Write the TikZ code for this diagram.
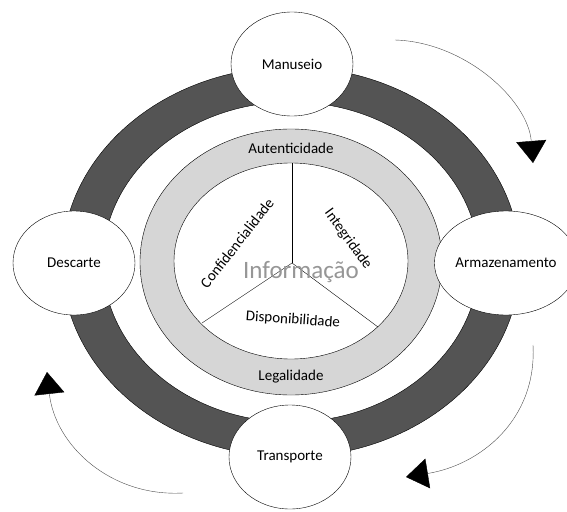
\documentclass[tikz,border=0pt]{standalone}
\usepackage{fontspec}
\setmainfont{Carlito}
\usetikzlibrary{shapes.geometric, arrows.meta, positioning}
\definecolor{ringdark}{RGB}{84,84,84}
\definecolor{ringlight}{RGB}{214,214,214}
\definecolor{infogray}{RGB}{150,150,150}
\tikzset{
  stage/.style={ellipse, draw=black, fill=white, minimum width=122pt, minimum height=104pt, inner sep=0pt, font=\fontsize{15}{17}\selectfont},
  pillar/.style={inner sep=1pt, font=\fontsize{15}{17}\selectfont},
  cycle/.style={draw=black!70, thin, -{Triangle[length=22pt, width=30pt, color=black]}}
}

\begin{document}
\begin{tikzpicture}[x=1pt, y=-1pt]
  \useasboundingbox (0,0) rectangle (567,511);

  % rings
  \fill[ringdark, even odd rule] (291,262) ellipse [x radius=229pt, y radius=195pt]
    (291,262) ellipse [x radius=188pt, y radius=160pt];
  \draw (291,262) ellipse [x radius=229pt, y radius=195pt];
  \draw (291,262) ellipse [x radius=188pt, y radius=160pt];
  \filldraw[fill=ringlight] (291,262) ellipse [x radius=151pt, y radius=133pt];
  \filldraw[fill=white] (291,261) ellipse [x radius=117pt, y radius=98pt];

  % spokes
  \coordinate (hub) at (292,263);
  \coordinate (spokeN) at (292,163);
  \coordinate (spokeL) at (202,323);
  \coordinate (spokeR) at (378,327);
  \draw (hub) -- (spokeN);
  \draw (hub) -- (spokeL);
  \draw (hub) -- (spokeR);

  \node (info) [font=\fontsize{25}{28}\selectfont, text=infogray] at (301,272) {Informação};
  \node (aut) [pillar] at (291,148) {Autenticidade};
  \node (leg) [pillar] at (291,377) {Legalidade};
  \node (disp) [pillar, rotate=-4] at (293,320) {Disponibilidade};
  \node (conf) [pillar, rotate=52] at (237,243) {Confidencialidade};
  \node (integ) [pillar, rotate=-54] at (348,239) {Integridade};

  % stages
  \node (manuseio) [stage] at (292,64) {Manuseio};
  \node (armaz) [stage] at (506,263) {Armazenamento};
  \node (transp) [stage] at (290,457) {Transporte};
  \node (descarte) [stage] at (74,263) {Descarte};

  % cycle arrows
  \coordinate (upS) at (395,40);
  \coordinate (upE) at (533,163);
  \coordinate (rightS) at (533,345);
  \coordinate (rightE) at (406,477);
  \coordinate (leftS) at (183,493);
  \coordinate (leftE) at (47,372);
  \draw [cycle] (upS) .. controls (465,42) and (528,100) .. (upE);
  \draw [cycle] (rightS) .. controls (537,420) and (480,465) .. (rightE);
  \draw [cycle] (leftS) .. controls (110,497) and (55,445) .. (leftE);

\end{tikzpicture}
\end{document}
